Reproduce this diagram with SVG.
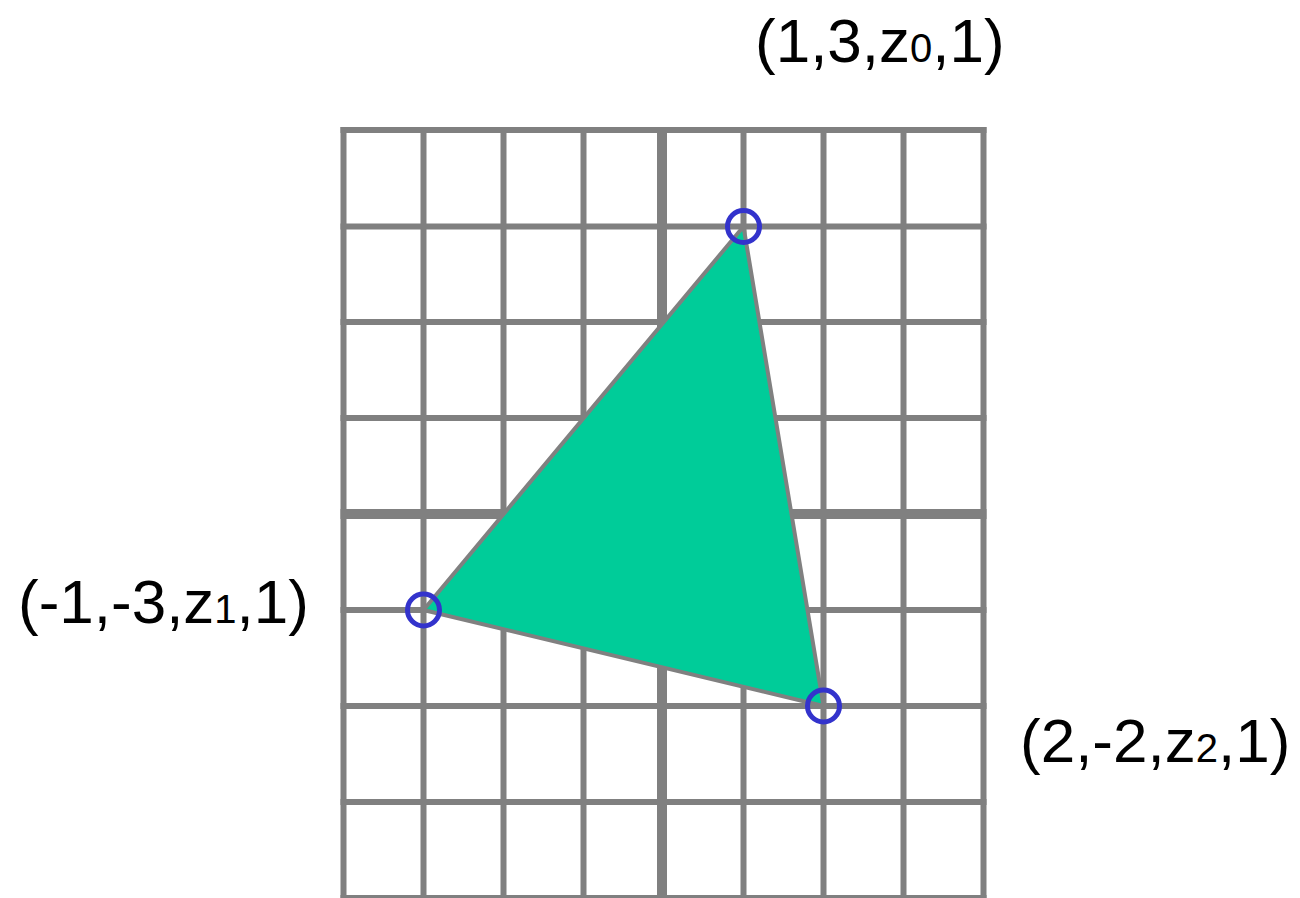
<svg xmlns="http://www.w3.org/2000/svg" width="1300" height="898" viewBox="0 0 1300 898">
<style>
.g{stroke:#808080;stroke-width:6;fill:none}
.ax{stroke:#808080;stroke-width:10;fill:none}
.tri{fill:#00cc99;stroke:#808080;stroke-width:4;stroke-linejoin:round}
.v{fill:none;stroke:#3333cc;stroke-width:5}
.lbl{font-family:"Liberation Sans",Arial,sans-serif;font-size:62px;fill:#000}
.sub{font-size:40px}
</style>
<rect width="1300" height="898" fill="#fff"/>
<g id="grid">
<path class="g" d="M343.5,127V898M423.5,127V898M503.5,127V898M583.5,127V898M743.5,127V898M823.5,127V898M903.5,127V898M983.5,127V898"/>
<path class="g" d="M340.5,130H986.5M340.5,226.5H986.5M340.5,322H986.5M340.5,418H986.5M340.5,610H986.5M340.5,706H986.5M340.5,802H986.5M340.5,898H986.5"/>
<path class="ax" d="M662,127V898M340.5,514H986.5"/>
</g>
<g id="triangle">
<polygon class="tri" points="743.5,226.5 423.5,610 823.5,706"/>
</g>
<g id="v0"><circle class="v" cx="743.5" cy="226.5" r="16"/><text class="lbl" x="755" y="62">(1,3,z<tspan class="sub">0</tspan>,1)</text></g>
<g id="v1"><circle class="v" cx="423.5" cy="610" r="16"/><text class="lbl" x="18" y="623">(-1,-3,z<tspan class="sub">1</tspan>,1)</text></g>
<g id="v2"><circle class="v" cx="823.5" cy="706" r="16"/><text class="lbl" x="1020" y="762">(2,-2,z<tspan class="sub">2</tspan>,1)</text></g>
</svg>
